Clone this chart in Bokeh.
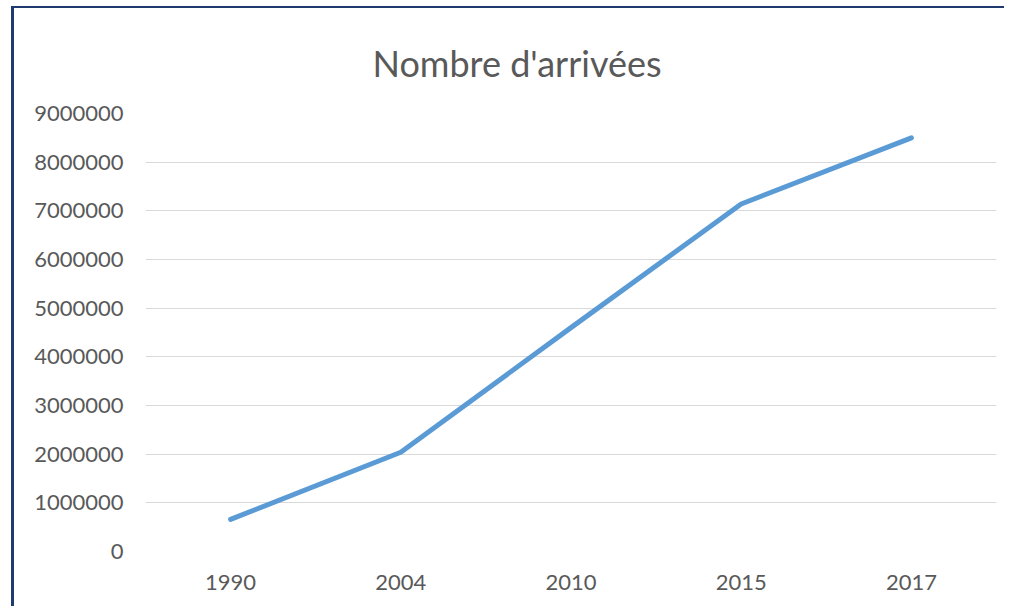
from bokeh.plotting import figure
from bokeh.models import FactorRange, Range1d, FixedTicker, NumeralTickFormatter
from bokeh.embed import file_html
from bokeh.resources import INLINE

years = ["1990", "2004", "2010", "2015", "2017"]
arrivals = [660000, 2040000, 4600000, 7140000, 8500000]
y_ticks = [0, 1000000, 2000000, 3000000, 4000000, 5000000, 6000000, 7000000, 8000000, 9000000]
title_text = "Nombre d'arrivées"

FONT = "Lato"
TXT = "#595959"

p = figure(width=993, height=600, x_range=FactorRange(*years, range_padding=0),
           y_range=Range1d(0, 9000000), output_backend="svg", toolbar_location=None,
           min_border_left=131, min_border_right=11, min_border_top=105, min_border_bottom=57,
           margin=(6, 0, 0, 11),
           styles={"border-left": "3px solid #1F3A6E", "border-top": "2px solid #1F3A6E"})

p.title.text = title_text
p.title.align = "left"
p.title.text_font = FONT
p.title.text_font_size = "36px"
p.title.text_font_style = "normal"
p.title.text_color = TXT
p.title.standoff = 58
p.title.offset = 227

p.line(x=years, y=arrivals, line_color="#5B9BD5", line_width=5,
       line_cap="round", line_join="round")

p.outline_line_color = None
p.xgrid.grid_line_color = None
p.ygrid.grid_line_color = "#D9D9D9"
p.ygrid.grid_line_width = 1.2
p.yaxis.ticker = FixedTicker(ticks=y_ticks)
p.yaxis.formatter = NumeralTickFormatter(format="0")

for ax in (p.xaxis[0], p.yaxis[0]):
    ax.axis_line_color = None
    ax.major_tick_line_color = None
    ax.minor_tick_line_color = None
    ax.major_tick_out = 0
    ax.major_tick_in = 0
    ax.major_label_text_font = FONT
    ax.major_label_text_font_size = "22px"
    ax.major_label_text_color = TXT

p.yaxis.major_label_standoff = 22
p.xaxis.major_label_standoff = 23

open("out.html", "w").write(file_html(p, INLINE))
